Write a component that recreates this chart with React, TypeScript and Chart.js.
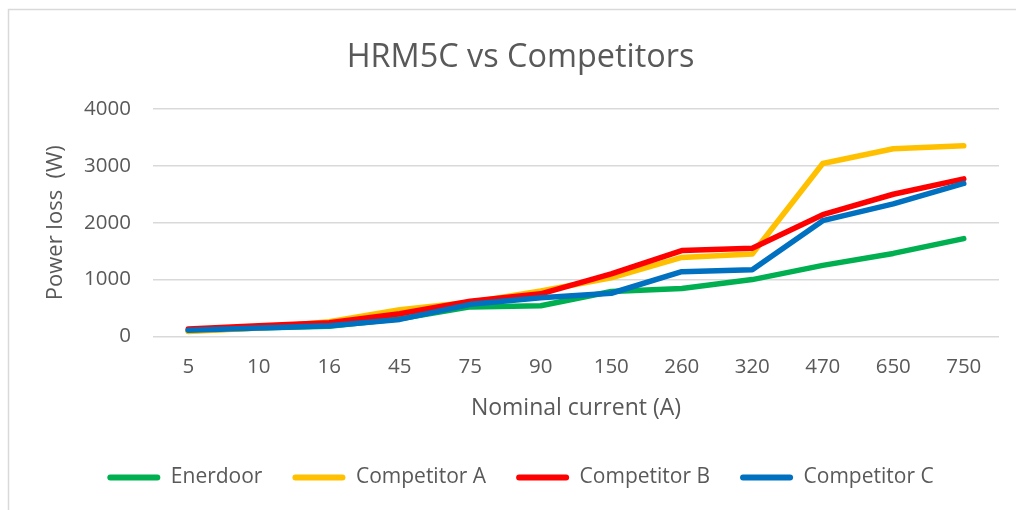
import React, { useEffect, useRef } from "react";
import { Chart, registerables } from "chart.js";

Chart.register(...registerables);

const categories = ["5", "10", "16", "45", "75", "90", "150", "260", "320", "470", "650", "750"];
const enerdoor = [100, 150, 180, 310, 520, 540, 790, 845, 1000, 1250, 1460, 1720];
const competitorA = [90, 150, 260, 470, 600, 800, 1030, 1390, 1450, 3040, 3300, 3350];
const competitorB = [130, 190, 240, 400, 620, 750, 1100, 1510, 1550, 2140, 2500, 2770];
const competitorC = [110, 150, 190, 300, 565, 680, 760, 1140, 1175, 2035, 2330, 2690];
const seriesNames = ["Enerdoor", "Competitor A", "Competitor B", "Competitor C"];
const seriesColors = ["#00B050", "#FFC000", "#FF0000", "#0070C0"];
const yMin = 0;
const yMax = 4000;
const yStep = 1000;

const FONT = "'Open Sans', sans-serif";
const TEXT = "#595959";

const framePlugin = {
  id: "frame",
  beforeDraw(chart: any) {
    const { ctx, width, height } = chart;
    ctx.save();
    ctx.fillStyle = "#ffffff";
    ctx.fillRect(0, 0, width, height);
    ctx.strokeStyle = "#d9d9d9";
    ctx.lineWidth = 1.5;
    ctx.beginPath();
    ctx.moveTo(8.5, height);
    ctx.lineTo(8.5, 9.5);
    ctx.lineTo(width, 9.5);
    ctx.stroke();
    ctx.restore();
  },
};

export default function App() {
  const ref = useRef<HTMLCanvasElement | null>(null);

  useEffect(() => {
    if (!ref.current) return;
    const series = [enerdoor, competitorA, competitorB, competitorC];
    const chart = new Chart(ref.current, {
      type: "line",
      data: {
        labels: categories,
        datasets: series.map((d, i) => ({
          label: seriesNames[i],
          data: d,
          borderColor: seriesColors[i],
          backgroundColor: seriesColors[i],
          borderWidth: 5.5,
          borderCapStyle: "round",
          borderJoinStyle: "round",
          pointRadius: 0,
          pointHoverRadius: 0,
          tension: 0,
          fill: false,
          order: series.length - i,
        })),
      },
      options: {
        responsive: false,
        animation: false,
        events: [],
        layout: { padding: { left: 42, right: 17, top: 0, bottom: 12 } },
        plugins: {
          tooltip: { enabled: false },
          title: {
            display: true,
            text: "HRM5C vs Competitors",
            color: TEXT,
            font: { family: FONT, size: 32.4, weight: "normal" },
            padding: { top: 38, bottom: 32 },
          },
          legend: {
            position: "bottom",
            labels: {
              color: TEXT,
              font: { family: FONT, size: 21 },
              boxWidth: 53,
              boxHeight: 6,
              padding: 30,
              useBorderRadius: true,
              borderRadius: 3,
              generateLabels: (c: any) =>
                c.data.datasets.map((ds: any, i: number) => ({
                  text: ds.label,
                  fillStyle: ds.borderColor,
                  strokeStyle: ds.borderColor,
                  lineWidth: 0,
                  hidden: false,
                  datasetIndex: i,
                  fontColor: TEXT,
                  borderRadius: 3,
                })),
            },
          },
        },
        scales: {
          x: {
            type: "category",
            offset: true,
            grid: { display: false, drawTicks: false },
            border: { display: false },
            ticks: {
              color: TEXT,
              font: { family: FONT, size: 20.5 },
              padding: 18,
              maxRotation: 0,
              autoSkip: false,
            },
            title: {
              display: true,
              text: "Nominal current (A)",
              color: TEXT,
              font: { family: FONT, size: 23 },
              padding: { top: 0, bottom: 15 },
            },
            afterFit: (s: any) => {
              s.height = 100.5;
            },
          },
          y: {
            min: yMin,
            max: yMax,
            ticks: {
              stepSize: yStep,
              color: TEXT,
              font: { family: FONT, size: 20.5 },
              padding: 22,
              callback: (v: any) => String(v),
            },
            grid: { color: "#d9d9d9", lineWidth: 1.5, drawTicks: false },
            border: { display: false },
            title: {
              display: true,
              text: "Power loss  (W)",
              color: TEXT,
              font: { family: FONT, size: 22 },
              padding: { top: 1, bottom: 0 },
            },
            afterFit: (s: any) => {
              s.width = 111;
            },
          },
        },
      },
      plugins: [framePlugin],
    } as any);
    return () => chart.destroy();
  }, []);

  return (
    <div style={{ position: "absolute", left: 0, top: 0, width: 1016, height: 510 }}>
      <canvas ref={ref} width={1016} height={510} style={{ display: "block" }} />
    </div>
  );
}
